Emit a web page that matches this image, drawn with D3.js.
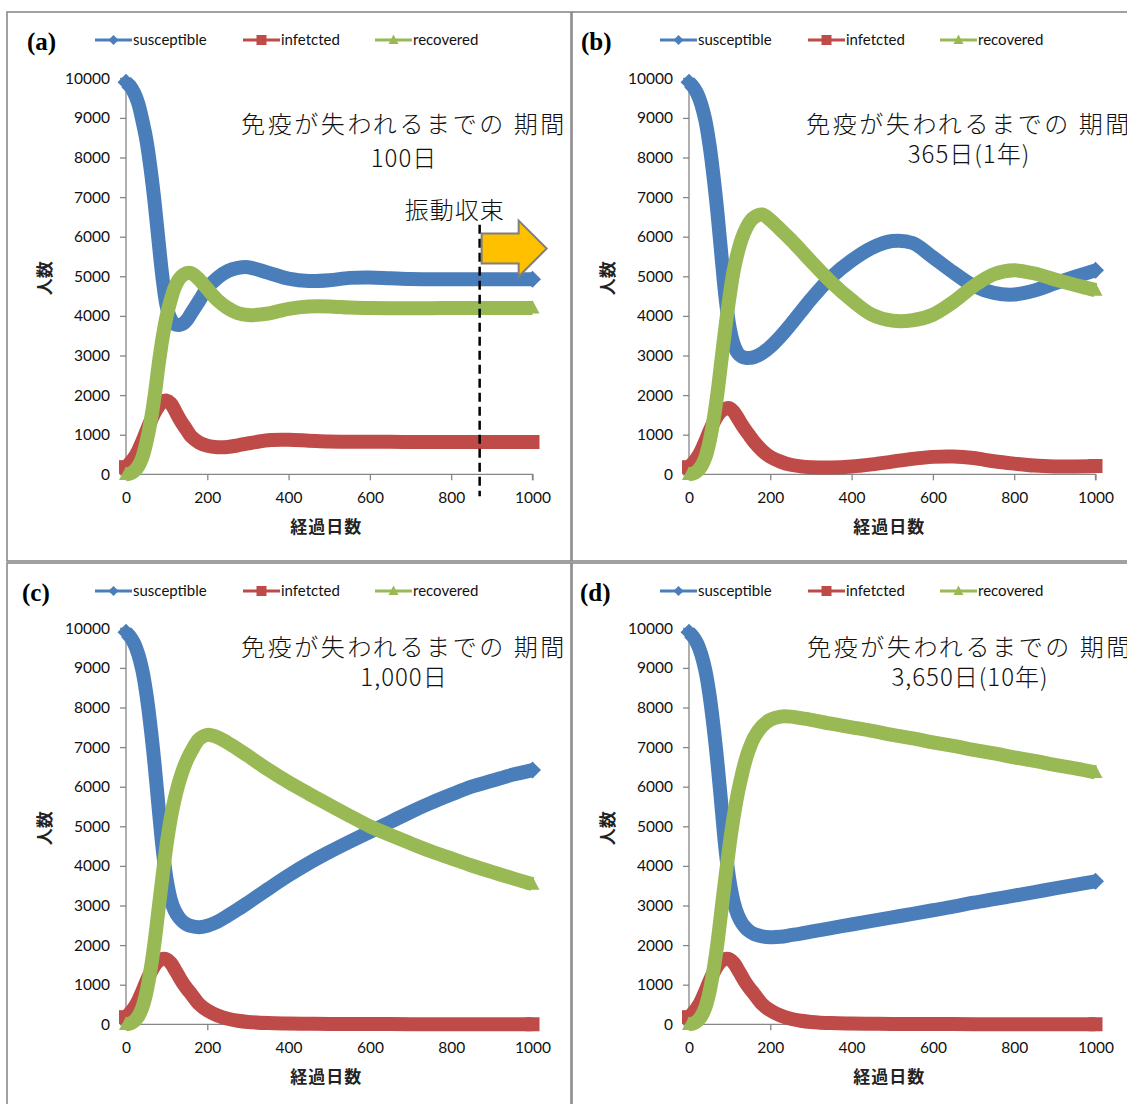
<!DOCTYPE html>
<html><head><meta charset="utf-8">
<script src="https://cdn.jsdelivr.net/npm/d3@7"></script>
<style>body{margin:0;background:#fff;} svg{display:block}</style>
</head><body>
<svg id="chart" width="1127" height="1104"></svg>
<script>
// ---------- data ----------
const days = [0,10,20,30,40,50,60,70,80,90,100,110,120,130,140,150,160,180,200,225,250,275,300,350,400,450,500,550,600,650,700,750,800,850,900,950,1000];
const seriesNames = ["susceptible","infetcted","recovered"];
const panelLabels = ["(a)","(b)","(c)","(d)"];
const titleLine = "免疫が失われるまでの 期間";
const periodLabels = ["100日","365日(1年)","1,000日","3,650日(10年)"];
const xTicks = [0,200,400,600,800,1000];
const yTicks = [0,1000,2000,3000,4000,5000,6000,7000,8000,9000,10000];
const xTitle = "経過日数";
const yTitle = "人数";
const noteText = "振動収束";
const noteDay = 870;

const susceptibleA = [9900,9800,9630,9370,8950,8450,7750,6900,5900,4950,4250,3920,3790,3770,3800,3900,4060,4380,4700,4960,5130,5210,5230,5090,4940,4880,4900,4960,4970,4950,4930,4925,4925,4925,4925,4925,4925];
const infectedA    = [180,290,420,600,830,1080,1330,1550,1720,1830,1860,1790,1620,1430,1260,1110,960,800,720,685,690,730,780,860,870,850,830,820,820,820,818,816,815,815,815,815,815];
const recoveredA   = [0,20,80,200,420,800,1300,1950,2750,3450,4000,4400,4720,4920,5030,5080,5080,4920,4680,4400,4200,4070,4020,4060,4180,4240,4240,4210,4200,4195,4195,4195,4200,4200,4200,4200,4200];

const susceptibleB = [9900,9790,9620,9350,8950,8350,7550,6600,5500,4450,3700,3280,3060,2970,2940,2940,2960,3060,3220,3480,3780,4100,4420,4980,5400,5720,5890,5840,5480,5100,4760,4580,4540,4640,4820,4990,5150];
const infectedB    = [180,290,420,600,830,1080,1300,1480,1600,1660,1670,1580,1420,1250,1100,960,820,600,440,320,240,200,180,170,195,250,320,390,440,450,410,330,270,220,200,200,210];
const recoveredB   = [0,20,80,200,420,800,1350,2050,2900,3750,4500,5150,5600,5950,6200,6380,6490,6560,6420,6180,5930,5660,5380,4850,4400,4030,3880,3890,4030,4350,4750,5050,5150,5070,4920,4780,4650];

const susceptibleC = [9900,9790,9620,9350,8950,8350,7550,6600,5500,4450,3650,3150,2870,2700,2590,2520,2480,2450,2490,2590,2740,2900,3070,3420,3760,4070,4350,4610,4860,5110,5360,5590,5800,6000,6150,6300,6420];
const infectedC    = [180,290,420,600,830,1080,1300,1480,1600,1650,1640,1550,1390,1210,1040,900,770,510,350,220,140,90,60,30,20,15,10,8,6,5,4,3,2,2,1,1,1];
const recoveredC   = [0,20,80,200,420,800,1350,2050,2900,3750,4550,5200,5700,6100,6420,6680,6880,7200,7310,7250,7110,6950,6780,6430,6110,5820,5540,5265,5000,4780,4570,4370,4190,4010,3850,3690,3540];

const susceptibleD = [9900,9790,9620,9350,8950,8350,7550,6600,5500,4400,3600,3080,2760,2560,2430,2340,2280,2220,2200,2210,2250,2290,2340,2430,2520,2610,2700,2790,2880,2970,3070,3160,3250,3340,3430,3520,3610];
const infectedD    = [180,290,420,600,830,1080,1300,1480,1600,1650,1640,1550,1390,1210,1040,900,770,510,350,220,140,90,60,30,20,15,10,8,6,5,4,3,2,2,1,1,1];
const recoveredD   = [0,20,80,200,420,800,1350,2050,2900,3750,4550,5250,5830,6300,6700,7000,7240,7530,7690,7770,7770,7730,7690,7590,7500,7410,7310,7220,7120,7030,6930,6840,6740,6650,6550,6460,6360];

const panelData = [
  [susceptibleA, infectedA, recoveredA],
  [susceptibleB, infectedB, recoveredB],
  [susceptibleC, infectedC, recoveredC],
  [susceptibleD, infectedD, recoveredD]
];

// ---------- styling / layout ----------
const colors = ["#4a7ebb", "#be4b48", "#98b954"];
const layout = [
  {fx:7,   fy:12,  fw:564, fh:549, px:126, py:78.3,  lab:27,  ann:404, l1:133, l2:167},
  {fx:572, fy:12,  fw:570, fh:549, px:689, py:78.3,  lab:581, ann:969, l1:133, l2:163},
  {fx:7,   fy:563, fw:564, fh:560, px:126, py:628.3, lab:22,  ann:404, l1:656, l2:686},
  {fx:572, fy:563, fw:570, fh:560, px:689, py:628.3, lab:580, ann:970, l1:656, l2:686}
];
const PW = 406.5, PH = 396;
const JP = "'Noto Sans CJK JP', sans-serif";
const svg = d3.select("#chart");
svg.append("rect").attr("width",1127).attr("height",1104).attr("fill","#fff");

function markerPath(kind, x, y, r) {
  if (kind === 0) return `M${x+r},${y}L${x},${y-r}L${x-r},${y}L${x},${y+r}Z`;
  if (kind === 1) return `M${x-r},${y-r}H${x+r}V${y+r}H${x-r}Z`;
  return `M${x},${y-r*1.1}L${x+r},${y+r*0.8}L${x-r},${y+r*0.8}Z`;
}

layout.forEach((L, pi) => {
  const g = svg.append("g");
  g.append("rect").attr("x",L.fx).attr("y",L.fy).attr("width",L.fw).attr("height",L.fh)
    .attr("fill","none").attr("stroke","#8a8a8a").attr("stroke-width",1.6);

  const x = d3.scaleLinear().domain([0,1000]).range([L.px, L.px+PW]);
  const y = d3.scaleLinear().domain([0,10000]).range([L.py+PH, L.py]);

  const yAxis = g.append("g").attr("transform",`translate(${L.px},0)`)
    .call(d3.axisLeft(y).tickValues(yTicks).tickSize(6).tickPadding(10).tickFormat(d3.format("d")));
  const xAxis = g.append("g").attr("transform",`translate(0,${L.py+PH})`)
    .call(d3.axisBottom(x).tickValues(xTicks).tickSize(6).tickPadding(12).tickFormat(d3.format("d")));
  [yAxis, xAxis].forEach(a => {
    a.select(".domain").attr("stroke","#868686").attr("stroke-width",1.3);
    a.selectAll(".tick line").attr("stroke","#868686").attr("stroke-width",1.3);
    a.selectAll(".tick text").attr("font-family","Lato, 'Open Sans', sans-serif")
      .attr("font-size",15.5).attr("fill","#111");
  });
  xAxis.select(".domain").attr("d", `M${L.px},6V0H${L.px+PW}V6`);
  yAxis.select(".domain").attr("d", `M-6,${L.py}H0V${L.py+PH}H-6`);

  g.append("text").attr("x", L.px + PW/2 - 3).attr("y", L.py + PH + 59)
    .attr("text-anchor","middle").attr("font-family",JP)
    .attr("font-weight","bold").attr("font-size",17).attr("letter-spacing",1).attr("fill","#222").text(xTitle);
  g.append("text").attr("transform",`translate(${L.px-75},${L.py+PH/2+2}) rotate(-90)`)
    .attr("text-anchor","middle").attr("font-family",JP)
    .attr("font-weight","bold").attr("font-size",17).attr("fill","#222").text(yTitle);

  g.append("text").attr("x", L.ann).attr("y", L.l1).attr("text-anchor","middle")
    .attr("font-family",JP).attr("font-weight",300).attr("letter-spacing",2.6)
    .attr("font-size",24).attr("fill","#111").text(titleLine);
  g.append("text").attr("x", L.ann).attr("y", L.l2).attr("text-anchor","middle")
    .attr("font-family",JP).attr("font-weight",300).attr("letter-spacing",1)
    .attr("font-size",24).attr("fill","#111").text(periodLabels[pi]);

  const line = d3.line().x((d,i)=>x(days[i])).y(d=>y(d)).curve(d3.curveCatmullRom.alpha(0.5));
  [0,1,2].forEach(si => {
    const vals = panelData[pi][si];
    g.append("path").datum(vals).attr("d", line).attr("fill","none")
      .attr("stroke", colors[si]).attr("stroke-width",14).attr("stroke-linejoin","round");
    [0, vals.length-1].forEach(k => {
      g.append("path").attr("d", markerPath(si, x(days[k]), y(vals[k]), si===0 ? 8.5 : 7))
        .attr("fill", colors[si]);
    });
  });

  const lx = L.fx + 88, ly = L.fy + 28;
  const legendOffsets = [0, 148, 280];
  seriesNames.forEach((nm, si) => {
    const ox = lx + legendOffsets[si];
    g.append("line").attr("x1",ox).attr("x2",ox+37).attr("y1",ly).attr("y2",ly)
      .attr("stroke",colors[si]).attr("stroke-width",3);
    g.append("path").attr("d", markerPath(si, ox+18.5, ly, 5)).attr("fill",colors[si]);
    g.append("text").attr("x", ox+38).attr("y", ly+5).attr("font-family","Lato, 'Open Sans', sans-serif")
      .attr("font-size",15).attr("fill","#111").text(nm);
  });

  g.append("text").attr("x", L.lab).attr("y", L.fy + 38)
    .attr("font-family","'Liberation Serif', 'Times New Roman', serif").attr("font-weight","bold")
    .attr("font-size",25).attr("fill","#000").text(panelLabels[pi]);

  if (pi === 0) {
    const xd = x(noteDay);
    g.append("line").attr("x1",xd).attr("x2",xd).attr("y1",y(6300)).attr("y2",L.py+PH+22)
      .attr("stroke","#000").attr("stroke-width",2.5).attr("stroke-dasharray","9,5");
    g.append("text").attr("x", xd-25).attr("y", y(6450)).attr("text-anchor","middle")
      .attr("font-family",JP).attr("font-weight",300).attr("letter-spacing",1)
      .attr("font-size",24).attr("fill","#111").text(noteText);
    const ax = xd + 2, ay = y(5700);
    g.append("path")
      .attr("d", `M${ax},${ay-15}H${ax+37}V${ay-28}L${ax+65},${ay}L${ax+37},${ay+28}V${ay+15}H${ax}Z`)
      .attr("fill","#ffc000").attr("stroke","#7f7f7f").attr("stroke-width",2).attr("stroke-linejoin","miter");
  }
});
</script>
</body></html>
